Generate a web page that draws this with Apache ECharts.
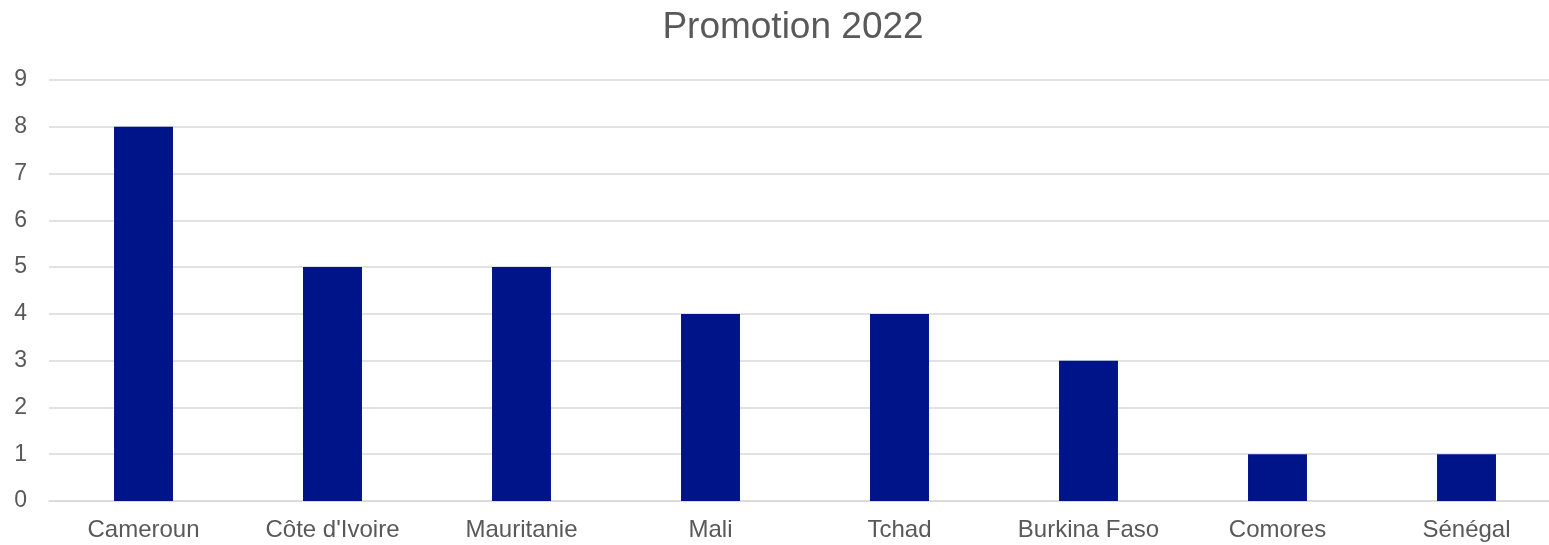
<!DOCTYPE html>
<html><head><meta charset="utf-8">
<script src="https://cdn.jsdelivr.net/npm/echarts@6/dist/echarts.min.js"></script>
<style>html,body{margin:0;padding:0;background:#fff;overflow:hidden;width:1549px;height:545px}#c{width:1561px;height:545px}</style>
</head><body><div id="c"></div>
<script>
const categories = ["Cameroun", "Côte d'Ivoire", "Mauritanie", "Mali", "Tchad", "Burkina Faso", "Comores", "Sénégal"];
const values = [8, 5, 5, 4, 4, 3, 1, 1];
const chart = echarts.init(document.getElementById('c'));
chart.setOption({
  animation: false,
  backgroundColor: '#fff',
  title: {
    text: 'Promotion 2022', left: 788, top: 4, textAlign: 'center',
    textStyle: {fontFamily: 'Liberation Sans, Arial, sans-serif', fontSize: 37, fontWeight: 'normal', color: '#595959'}
  },
  grid: {left: 49, right: 0, top: 80, bottom: 44},
  xAxis: {
    type: 'category', data: categories,
    axisLine: {lineStyle: {color: '#d9d9d9', width: 1.5}},
    axisTick: {show: false},
    axisLabel: {fontFamily: 'Liberation Sans, Arial, sans-serif', fontSize: 24, color: '#595959', margin: 17}
  },
  yAxis: {
    type: 'value', min: 0, max: 9, interval: 1,
    axisLine: {show: false}, axisTick: {show: false},
    splitLine: {lineStyle: {color: '#d9d9d9', width: 1.5}},
    axisLabel: {fontFamily: 'Liberation Sans, Arial, sans-serif', fontSize: 23, color: '#595959', margin: 22}
  },
  series: [{
    type: 'bar', data: values, barWidth: '31.2%',
    itemStyle: {color: '#00148A'}
  }]
});
</script></body></html>
